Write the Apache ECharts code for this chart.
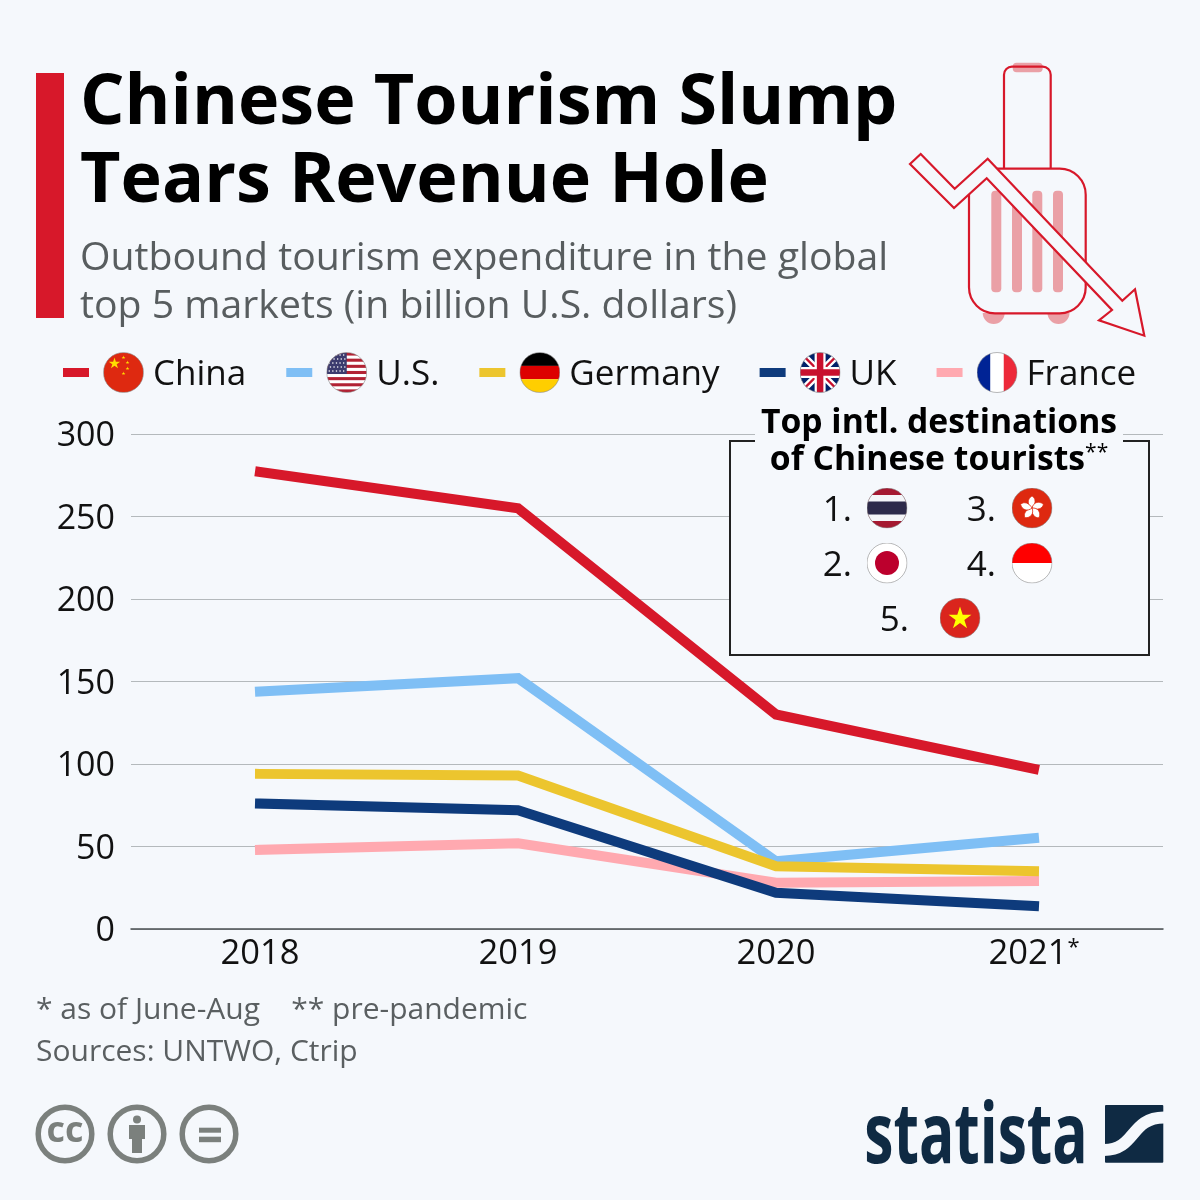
<!DOCTYPE html>
<html>
<head>
<meta charset="utf-8">
<title>Chinese Tourism Slump</title>
<script src="https://cdn.jsdelivr.net/npm/echarts@6/dist/echarts.min.js"></script>
<style>
html, body { margin: 0; padding: 0; background: #f5f8fc; }
#main { width: 1200px; height: 1200px; }
</style>
</head>
<body>
<div id="main"></div>
<script>
// Data
var years   = ["2018", "2019", "2020", "2021*"];
var china   = [277, 255, 130, 97];
var us      = [144, 152, 41, 55];
var germany = [94, 93, 38, 35];
var uk      = [76, 72, 22, 14];
var france  = [48, 52, 28, 29];

var names  = ["China", "U.S.", "Germany", "UK", "France"];
var colors = ["#d7182a", "#7fbff5", "#ecc52e", "#0e3b7c", "#ffa9b0"];
var values = [china, us, germany, uk, france];
var layers = [3, 3, 4, 5, 3];  // UK runs over France, Germany over U.S.

var BG = "#f5f8fc";
var RED = "#d7182a";
var PALE = "#eaa0a6";
var FONT = "'Open Sans'";

// Star polygon for the flags
function star(cx, cy, r, fill){
    var pts = [];
    for (var i = 0; i < 10; i++){
        var rad = i % 2 ? r * 0.382 : r;
        var a = -Math.PI / 2 + i * Math.PI / 5;
        pts.push((cx + rad * Math.cos(a)).toFixed(2) + "," + (cy + rad * Math.sin(a)).toFixed(2));
    }
    return '<polygon fill="' + fill + '" points="' + pts.join(" ") + '"/>';
}

// Round flag as svg data uri, drawn on a 40x40 box
function flag(inner){
    var svg = '<svg xmlns="http://www.w3.org/2000/svg" width="82" height="82" viewBox="-0.5 -0.5 41 41">' +
        '<defs><clipPath id="c"><circle cx="20" cy="20" r="20"/></clipPath></defs>' +
        '<g clip-path="url(#c)">' + inner + '</g>' +
        '<circle cx="20" cy="20" r="20" fill="none" stroke="#8a8a8a" stroke-width="0.6"/></svg>';
    return "data:image/svg+xml;charset=utf-8," + encodeURIComponent(svg);
}

function usFlag(){
    var s = '<rect width="40" height="40" fill="#fff"/>';
    for (var i = 0; i < 7; i++){
        s += '<rect y="' + (i * 6.15) + '" width="40" height="3.07" fill="#b22234"/>';
    }
    s += '<rect width="20" height="21.5" fill="#3c3b6e"/>';
    for (var r = 0; r < 5; r++){
        for (var c = 0; c < 5; c++){
            s += '<circle cx="' + (2.5 + c * 3.6 + (r % 2) * 1.2) + '" cy="' + (2.5 + r * 4) + '" r="0.8" fill="#fff"/>';
        }
    }
    return s;
}

function hkFlag(){
    var s = '<rect width="40" height="40" fill="#de2910"/>';
    for (var i = 0; i < 5; i++){
        s += '<path transform="rotate(' + (i * 72) + ' 20 20)" fill="#fff" stroke="#de2910" stroke-width="0.7" d="M20 20 C15 17 15 11 20 8 C24 10 24 16 20 20 Z"/>';
    }
    return s;
}

var flags = {
    China: flag('<rect width="40" height="40" fill="#de2910"/>' + star(11, 11, 6, "#ffde00") + star(20, 5, 2, "#ffde00") +
        star(24, 10, 2, "#ffde00") + star(24, 16, 2, "#ffde00") + star(20, 21, 2, "#ffde00")),
    "U.S.": flag(usFlag()),
    Germany: flag('<rect width="40" height="13.4" fill="#000"/><rect y="13.4" width="40" height="13.3" fill="#dd0000"/><rect y="26.7" width="40" height="13.3" fill="#ffce00"/>'),
    UK: flag('<rect width="40" height="40" fill="#012169"/><path d="M0 0L40 40M40 0L0 40" stroke="#fff" stroke-width="7"/>' +
        '<path d="M0 0L40 40M40 0L0 40" stroke="#c8102e" stroke-width="2.4"/><path d="M20 0V40M0 20H40" stroke="#fff" stroke-width="11"/>' +
        '<path d="M20 0V40M0 20H40" stroke="#c8102e" stroke-width="6.5"/>'),
    France: flag('<rect width="13.4" height="40" fill="#002395"/><rect x="13.4" width="13.3" height="40" fill="#fff"/><rect x="26.7" width="13.3" height="40" fill="#ed2939"/>'),
    thailand: flag('<rect width="40" height="40" fill="#a51931"/><rect y="7" width="40" height="26" fill="#f4f5f8"/><rect y="13.5" width="40" height="13" fill="#2d2a4a"/>'),
    japan: flag('<rect width="40" height="40" fill="#fff"/><circle cx="20" cy="20" r="12" fill="#bc002d"/>'),
    hongkong: flag(hkFlag()),
    indonesia: flag('<rect width="40" height="20" fill="#ff0000"/><rect y="20" width="40" height="20" fill="#fff"/>'),
    vietnam: flag('<rect width="40" height="40" fill="#da251d"/>' + star(20, 20.5, 12, "#ffff00"))
};

function text(x, y, str, size, color, weight, align){
    return {
        type: "text", x: x, y: y, z: 50,
        style: {
            text: str, fontFamily: FONT, fontSize: size, fill: color,
            fontWeight: weight || "normal", textAlign: align || "left", textVerticalAlign: "middle"
        }
    };
}

function rect(x, y, w, h, fill, r){
    return { type: "rect", z: 50, shape: { x: x, y: y, width: w, height: h, r: r || 0 }, style: { fill: fill } };
}

function flagImage(key, cx, cy){
    return { type: "image", z: 52, x: cx - 20.5, y: cy - 20.5, style: { image: flags[key], width: 41, height: 41 } };
}

function outline(x, y, w, h, r){
    return { type: "rect", z: 51, shape: { x: x, y: y, width: w, height: h, r: r }, style: { fill: "none", stroke: RED, lineWidth: 2.2 } };
}

function ring(cx, cy){
    return { type: "circle", z: 50, shape: { cx: cx, cy: cy, r: 26.8 }, style: { fill: "none", stroke: "#7b807d", lineWidth: 5.5 } };
}

// The logo is squeezed sideways, no narrow font is available
var logo = text(976, 1139, "statista", 85, "#0f2a43", "bold", "center");
logo.scaleX = 0.69;

var graphics = [
    // header
    rect(36, 73, 28, 245, RED),
    text(80, 104, "Chinese Tourism Slump", 70, "#000", "bold"),
    text(80, 182, "Tears Revenue Hole", 70, "#000", "bold"),
    text(80, 259, "Outbound tourism expenditure in the global", 39.2, "#585d5f"),
    text(80, 307, "top 5 markets (in billion U.S. dollars)", 39.2, "#585d5f"),

    // suitcase
    rect(1012.7, 62.7, 30, 9.5, PALE, 4),
    outline(1004, 66.7, 46.7, 110, [8, 8, 0, 0]),
    { type: "sector", z: 50, shape: { cx: 993.7, cy: 313, r: 11, startAngle: 0, endAngle: Math.PI }, style: { fill: PALE } },
    { type: "sector", z: 50, shape: { cx: 1058.5, cy: 313, r: 11, startAngle: 0, endAngle: Math.PI }, style: { fill: PALE } },
    { type: "rect", z: 51, shape: { x: 969, y: 168.7, width: 116.7, height: 144.6, r: 26 }, style: { fill: BG, stroke: RED, lineWidth: 2.2 } },
    { type: "rect", z: 52, shape: { x: 991.3, y: 190.7, width: 10, height: 101.6, r: 4 }, style: { fill: PALE } },
    { type: "rect", z: 52, shape: { x: 1012, y: 190.7, width: 10, height: 101.6, r: 4 }, style: { fill: PALE } },
    { type: "rect", z: 52, shape: { x: 1032.3, y: 190.7, width: 10, height: 101.6, r: 4 }, style: { fill: PALE } },
    { type: "rect", z: 52, shape: { x: 1053, y: 190.7, width: 10, height: 101.6, r: 4 }, style: { fill: PALE } },
    {
        type: "polygon", z: 53,
        shape: { points: [[910, 164], [920.7, 154], [954.7, 188.7], [987.7, 158.7], [1122.3, 300.7], [1135, 289.3],
            [1144.3, 335.7], [1099, 320.3], [1112, 310], [986.7, 178.3], [954, 208]] },
        style: { fill: BG, stroke: RED, lineWidth: 2.2 }
    },

    // inset with the destinations
    { type: "rect", z: 40, shape: { x: 730, y: 441, width: 419, height: 214 }, style: { fill: BG, stroke: "#222", lineWidth: 2 } },
    rect(755, 400, 368, 70, BG),
    text(939, 423, "Top intl. destinations", 33.7, "#000", "bold", "center"),
    {
        type: "text", x: 939, y: 460, z: 50,
        style: {
            text: "{a|of Chinese tourists}{b|**}", textAlign: "center", textVerticalAlign: "middle",
            rich: {
                a: { fontFamily: FONT, fontSize: 33.7, fontWeight: "bold", fill: "#000" },
                b: { fontFamily: FONT, fontSize: 21, fill: "#000", verticalAlign: "top", padding: [0, 0, 10, 0] }
            }
        }
    },
    text(852, 511, "1.", 35, "#111", "normal", "right"),
    text(852, 566, "2.", 35, "#111", "normal", "right"),
    text(996, 511, "3.", 35, "#111", "normal", "right"),
    text(996, 566, "4.", 35, "#111", "normal", "right"),
    text(909, 621, "5.", 35, "#111", "normal", "right"),
    flagImage("thailand", 887, 508),
    flagImage("japan", 887, 563),
    flagImage("hongkong", 1032, 508),
    flagImage("indonesia", 1032, 563),
    flagImage("vietnam", 960, 618),

    // footer
    text(36, 1010, "* as of June-Aug    ** pre-pandemic", 30, "#5a5f61"),
    text(36, 1052, "Sources: UNTWO, Ctrip", 30, "#5a5f61"),

    // licence icons
    ring(65, 1134), ring(137, 1134), ring(209, 1134),
    text(65, 1132, "cc", 36, "#7b807d", "bold", "center"),
    { type: "circle", z: 50, shape: { cx: 137, cy: 1119.5, r: 4 }, style: { fill: "#7b807d" } },
    { type: "polygon", z: 50, shape: { points: [[129, 1125], [145, 1125], [145, 1139], [142, 1139], [142, 1153], [132, 1153], [132, 1139], [129, 1139]] }, style: { fill: "#7b807d" } },
    rect(199, 1127.7, 22, 5, "#7b807d"),
    rect(199, 1136.7, 22, 5.5, "#7b807d"),

    // statista logo
    logo,
    rect(1105, 1105, 58.3, 57.7, "#0f2a43", 1),
    {
        type: "bezierCurve", z: 51,
        shape: { x1: 1104, y1: 1150, x2: 1164, y2: 1117.5, cpx1: 1136, cpy1: 1150, cpx2: 1130, cpy2: 1117.5 },
        style: { fill: "none", stroke: BG, lineWidth: 12 }
    }
];

// Legend label is spacer, flag image and name
var rich = {
    s: { width: 9, height: 41 },
    t: { fontFamily: FONT, fontSize: 35, color: "#111", padding: [5, 0, 0, 9] }
};
names.forEach(function(n, i){
    rich["f" + i] = { width: 41, height: 41, backgroundColor: { image: flags[n] } };
});

var series = names.map(function(n, i){
    return {
        name: n, type: "line", data: values[i], symbol: "none", z: layers[i], clip: false,
        itemStyle: { color: colors[i] },
        lineStyle: { color: colors[i], width: 10, cap: "square", join: "miter" }
    };
});

var chart = echarts.init(document.getElementById("main"));
chart.setOption({
    backgroundColor: BG,
    animation: false,
    grid: { left: 131, right: 37, top: 434, bottom: 271 },
    legend: {
        left: 58, top: 347, icon: "rect", itemWidth: 26, itemHeight: 9, itemGap: 40,
        selectedMode: false,
        data: names,
        textStyle: { rich: rich, fontFamily: FONT, fontSize: 35 },
        formatter: function(n){
            return "{s|}{f" + names.indexOf(n) + "|}{t|" + n + "}";
        }
    },
    xAxis: {
        type: "category", data: years,
        axisLine: { lineStyle: { color: "#4a4f52", width: 1.5 } },
        axisTick: { show: false },
        axisLabel: {
            interval: 0, fontFamily: FONT, fontSize: 34.5, color: "#111", margin: 8,
            formatter: function(v){
                return v.indexOf("*") > 0 ? "{y|" + v.replace("*", "") + "}{a|*}" : "{y|" + v + "}";
            },
            rich: {
                y: { fontFamily: FONT, fontSize: 34.5, color: "#111" },
                a: { fontFamily: FONT, fontSize: 22, color: "#111", verticalAlign: "top" }
            }
        }
    },
    yAxis: {
        type: "value", min: 0, max: 300, interval: 50,
        axisLine: { show: false },
        axisTick: { show: false },
        splitLine: { lineStyle: { color: "#b4b9bc", width: 1 } },
        axisLabel: {
            fontFamily: FONT, fontSize: 34, color: "#111", margin: 16,
            formatter: "{v|{value}}",
            rich: { v: { fontFamily: FONT, fontSize: 34, color: "#111", padding: [5, 0, 0, 0] } }
        }
    },
    series: series,
    graphic: { elements: graphics }
});
</script>
</body>
</html>
